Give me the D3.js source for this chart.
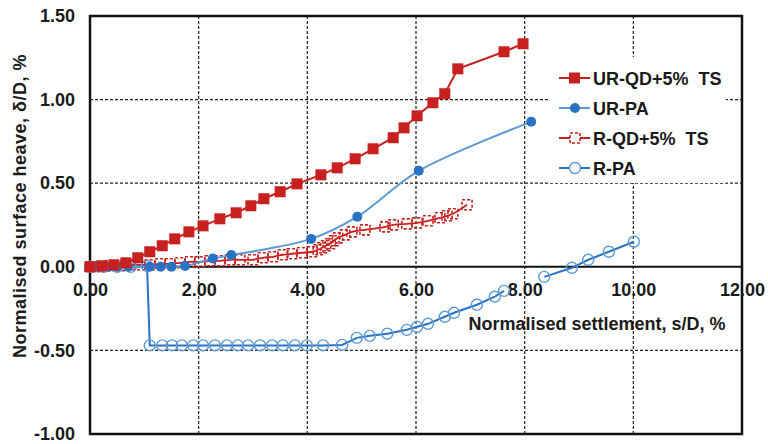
<!DOCTYPE html>
<html>
<head>
<meta charset="utf-8">
<script src="https://cdn.jsdelivr.net/npm/d3@7"></script>
<style>
  body { margin: 0; background: #fff; }
  text { font-family: 'Liberation Sans', Arial, sans-serif; font-weight: bold; fill: #1a1a1a; }
</style>
</head>
<body>
<div id="chart"></div>
<script>
'use strict';
// Data: [settlement s/D %, heave δ/D %]
const xTicks = [0, 2, 4, 6, 8, 10, 12]
const yTicks = [-1, -0.5, 0, 0.5, 1, 1.5]
const seriesNames = ['UR-QD+5%  TS', 'UR-PA', 'R-QD+5%  TS', 'R-PA']

const urQd = [
  [0, 0], [0.22, 0.006], [0.44, 0.012], [0.66, 0.024], [0.88, 0.054], [1.10, 0.090],
  [1.33, 0.126], [1.56, 0.167], [1.82, 0.209], [2.08, 0.245], [2.39, 0.287], [2.69, 0.323],
  [2.96, 0.365], [3.20, 0.407], [3.50, 0.449], [3.81, 0.496], [4.25, 0.550], [4.55, 0.592],
  [4.88, 0.646], [5.21, 0.706], [5.58, 0.772], [5.78, 0.831], [6.02, 0.903], [6.31, 0.981],
  [6.53, 1.035], [6.77, 1.184], [7.62, 1.286], [7.97, 1.334]
]
const urPa = [
  [0, 0], [0.1, 0], [0.2, 0], [0.35, 0], [0.5, 0], [0.7, 0], [1.1, 0], [1.3, 0], [1.5, 0],
  [1.75, 0.005], [2.26, 0.05], [2.6, 0.07], [4.07, 0.167], [4.92, 0.30], [6.05, 0.574], [8.12, 0.867]
]
const rQd = [
  [0, 0], [0.18, 0], [0.37, 0.006], [0.55, 0.006], [0.74, 0.012], [0.92, 0.012], [1.10, 0.012],
  [1.29, 0.018], [1.47, 0.018], [1.66, 0.024], [1.84, 0.030], [2.02, 0.030], [2.21, 0.036],
  [2.39, 0.036], [2.58, 0.042], [2.76, 0.042], [3.00, 0.042], [3.18, 0.054], [3.37, 0.060],
  [3.55, 0.072], [3.72, 0.078], [3.90, 0.084], [4.09, 0.090], [4.20, 0.102], [4.27, 0.114],
  [4.34, 0.126], [4.42, 0.138], [4.49, 0.156], [4.56, 0.173], [4.69, 0.191], [4.82, 0.209],
  [5.06, 0.221], [5.43, 0.239], [5.58, 0.251], [5.83, 0.257], [6.02, 0.263], [6.22, 0.275],
  [6.44, 0.293], [6.57, 0.305], [6.68, 0.317], [6.94, 0.371]
]
// null marks the break in the R-PA record
const rPa = [
  [0, 0], [0.25, 0], [0.5, 0], [0.75, 0], [1.05, 0.005], [1.10, -0.47], [1.33, -0.47],
  [1.51, -0.47], [1.69, -0.47], [1.90, -0.47], [2.08, -0.47], [2.30, -0.47], [2.52, -0.47],
  [2.72, -0.47], [2.91, -0.47], [3.13, -0.47], [3.35, -0.47], [3.55, -0.47], [3.77, -0.47],
  [3.99, -0.47], [4.29, -0.47], [4.64, -0.467], [4.91, -0.425], [5.15, -0.413], [5.47, -0.40],
  [5.83, -0.377], [6.02, -0.359], [6.22, -0.341], [6.53, -0.299], [6.70, -0.275], [7.12, -0.227],
  [7.45, -0.179], [7.62, -0.144], null,
  [8.36, -0.060], [8.87, -0.006], [9.17, 0.042], [9.55, 0.090], [10.01, 0.150]
]

const red = '#c8201f'
const blueDark = '#2a72c2'
const blueLight = '#5b9bd5'

const width = 768
const height = 444
const x = d3.scaleLinear().domain([0, 12]).range([90, 742])
const y = d3.scaleLinear().domain([-1, 1.5]).range([434, 16])

const svg = d3.select('#chart')
  .append('svg')
  .attr('width', width)
  .attr('height', height)

// Dashed gridlines
svg.append('g').selectAll('line')
  .data(xTicks.filter(d => d > 0 && d < 12))
  .join('line')
  .attr('x1', d => x(d)).attr('x2', d => x(d))
  .attr('y1', y(1.5)).attr('y2', y(-1))
  .attr('stroke', '#222').attr('stroke-width', 1.2).attr('stroke-dasharray', '3,2')
svg.append('g').selectAll('line')
  .data(yTicks.filter(d => d > -1 && d < 1.5 && d !== 0))
  .join('line')
  .attr('x1', x(0)).attr('x2', x(12))
  .attr('y1', d => y(d)).attr('y2', d => y(d))
  .attr('stroke', '#222').attr('stroke-width', 1.2).attr('stroke-dasharray', '3,2')

// Plot border and zero axis
svg.append('rect')
  .attr('x', x(0)).attr('y', y(1.5))
  .attr('width', x(12) - x(0)).attr('height', y(-1) - y(1.5))
  .attr('fill', 'none').attr('stroke', '#111').attr('stroke-width', 2.5)
svg.append('line')
  .attr('x1', x(0)).attr('x2', x(12))
  .attr('y1', y(0)).attr('y2', y(0))
  .attr('stroke', '#111').attr('stroke-width', 2)

// Axis tick labels
const yAxis = svg.append('g')
  .attr('transform', `translate(${x(0)},0)`)
  .call(d3.axisLeft(y).tickValues(yTicks).tickSize(0).tickPadding(15).tickFormat(d => d.toFixed(2)))
const xAxis = svg.append('g')
  .attr('transform', `translate(0,${y(0)})`)
  .call(d3.axisBottom(x).tickValues(xTicks).tickSize(0).tickPadding(16).tickFormat(d => d.toFixed(2)))
yAxis.select('.domain').remove()
xAxis.select('.domain').remove()
svg.selectAll('.tick text')
  .attr('font-family', "'Liberation Sans', Arial, sans-serif")
  .attr('font-size', 18)
  .attr('font-weight', 'bold')
  .attr('fill', '#1a1a1a')

// Axis titles
svg.append('text')
  .attr('transform', `translate(26,206) rotate(-90)`)
  .attr('text-anchor', 'middle')
  .attr('font-size', 18)
  .attr('letter-spacing', 0.5)
  .text('Normalised surface heave, δ/D, %')
svg.append('text')
  .attr('x', 597).attr('y', 330)
  .attr('text-anchor', 'middle')
  .attr('font-size', 18)
  .text('Normalised settlement, s/D, %')

const line = d3.line()
  .defined(d => d !== null)
  .x(d => x(d[0]))
  .y(d => y(d[1]))
  .curve(d3.curveCatmullRom.alpha(0.5))

// R-QD+5% TS: dashed open squares
svg.append('path').datum(rQd)
  .attr('d', line).attr('fill', 'none').attr('stroke', red).attr('stroke-width', 1.8)
svg.append('g').selectAll('rect')
  .data(rQd)
  .join('rect')
  .attr('x', d => x(d[0]) - 5).attr('y', d => y(d[1]) - 5)
  .attr('width', 10).attr('height', 10)
  .attr('fill', 'none').attr('stroke', red).attr('stroke-width', 1.6)
  .attr('stroke-dasharray', '3,2')

// R-PA: open circles
svg.append('path').datum(rPa)
  .attr('d', line.curve(d3.curveLinear)).attr('fill', 'none').attr('stroke', blueDark).attr('stroke-width', 2)
svg.append('g').selectAll('circle')
  .data(rPa.filter(d => d !== null))
  .join('circle')
  .attr('cx', d => x(d[0])).attr('cy', d => y(d[1]))
  .attr('r', 5.5)
  .attr('fill', 'none').attr('stroke', blueLight).attr('stroke-width', 1.4)

// UR-PA: filled circles
line.curve(d3.curveCatmullRom.alpha(0.5))
svg.append('path').datum(urPa)
  .attr('d', line).attr('fill', 'none').attr('stroke', blueLight).attr('stroke-width', 2)
svg.append('g').selectAll('circle')
  .data(urPa)
  .join('circle')
  .attr('cx', d => x(d[0])).attr('cy', d => y(d[1]))
  .attr('r', 5)
  .attr('fill', blueDark)

// UR-QD+5% TS: filled squares
svg.append('path').datum(urQd)
  .attr('d', line.curve(d3.curveLinear)).attr('fill', 'none').attr('stroke', red).attr('stroke-width', 2)
svg.append('g').selectAll('rect')
  .data(urQd)
  .join('rect')
  .attr('x', d => x(d[0]) - 5.5).attr('y', d => y(d[1]) - 5.5)
  .attr('width', 11).attr('height', 11)
  .attr('fill', red)

// Legend
svg.append('rect')
  .attr('x', 548).attr('y', 57).attr('width', 178).attr('height', 126)
  .attr('fill', '#fff')
const legend = svg.append('g')
seriesNames.forEach((name, i) => {
  const ly = 78 + i * 30
  const color = i % 2 === 0 ? red : (i === 1 ? blueLight : blueDark)
  legend.append('line')
    .attr('x1', 559).attr('x2', 590).attr('y1', ly).attr('y2', ly)
    .attr('stroke', color).attr('stroke-width', 2)
  if (i === 0) {
    legend.append('rect').attr('x', 569).attr('y', ly - 5.5).attr('width', 11).attr('height', 11).attr('fill', red)
  } else if (i === 1) {
    legend.append('circle').attr('cx', 575).attr('cy', ly).attr('r', 5).attr('fill', blueDark)
  } else if (i === 2) {
    legend.append('rect').attr('x', 570).attr('y', ly - 5).attr('width', 10).attr('height', 10)
      .attr('fill', '#fff').attr('stroke', red).attr('stroke-width', 1.6).attr('stroke-dasharray', '3,2')
  } else {
    legend.append('circle').attr('cx', 575).attr('cy', ly).attr('r', 5.5)
      .attr('fill', '#fff').attr('stroke', blueLight).attr('stroke-width', 1.4)
  }
  legend.append('text')
    .attr('x', 593).attr('y', ly + 6.5)
    .attr('font-size', 18)
    .style('white-space', 'pre')
    .text(name)
})
</script>
</body>
</html>
